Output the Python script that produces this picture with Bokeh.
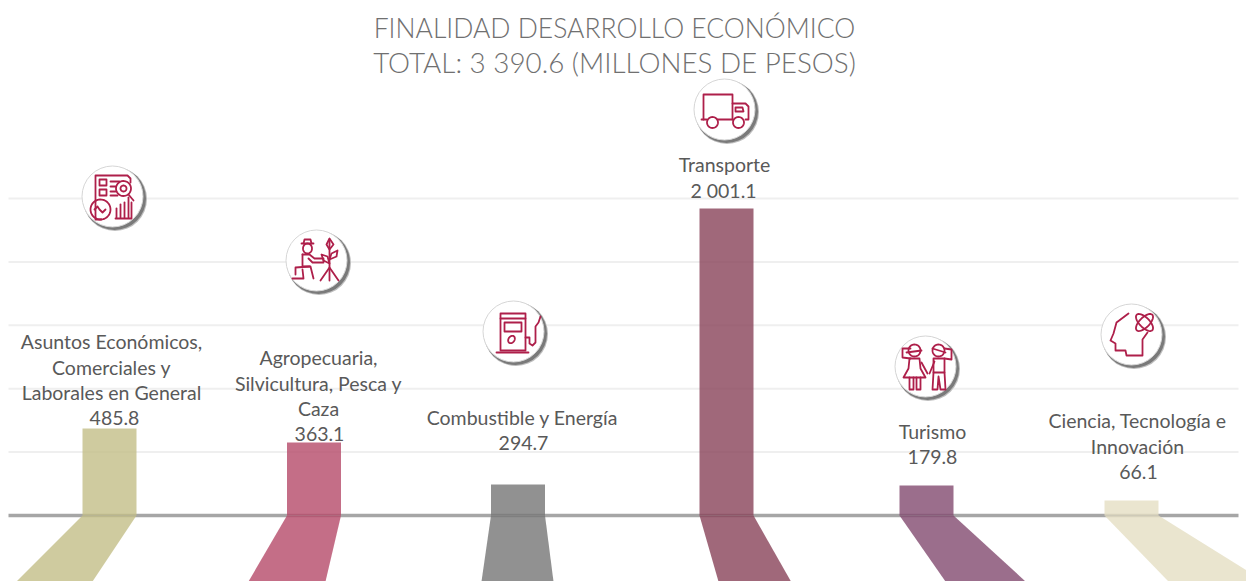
import numpy as np
from bokeh.core.properties import value
from bokeh.embed import file_html
from bokeh.models import Range1d
from bokeh.plotting import figure
from bokeh.resources import INLINE

# ---------- data ----------
title_lines = ["FINALIDAD DESARROLLO ECONÓMICO", "TOTAL: 3 390.6 (MILLONES DE PESOS)"]
categories = [
    ["Asuntos Económicos,", "Comerciales y", "Laborales en General"],
    ["Agropecuaria,", "Silvicultura, Pesca y", "Caza"],
    ["Combustible y Energía"],
    ["Transporte"],
    ["Turismo"],
    ["Ciencia, Tecnología e", "Innovación"],
]
value_labels = ["485.8", "363.1", "294.7", "2 001.1", "179.8", "66.1"]
# bar heights as drawn, read against the gridlines (the picture is not to scale)
bar_heights = [549, 460, 196, 1937, 189, 95]
grid_ticks = [400, 800, 1200, 1600, 2000]
bar_colors = ["#C3BE87", "#B54A69", "#767676", "#884259", "#824A6F", "#E5DFC3"]

# ---------- layout (page pixels of the 1246x581 window) ----------
W, H = 1246, 581
ZERO_PX, PX_PER_UNIT = 515.0, 63.4 / 400
SLOT0_PX, SLOT_PX = 109.0, 204.4
def fx(px): return (np.asarray(px, dtype=float) - SLOT0_PX) / SLOT_PX
def fy(px): return (ZERO_PX - np.asarray(px, dtype=float)) / PX_PER_UNIT

bar_px = [109, 313.5, 517.5, 726, 926, 1131]
foot_left_px = [16, 248, 481, 718, 945, 1168]
foot_right_px = [92, 325, 553, 790.5, 1025, 1264]
label_cx = [111, 318, 522, 724, 932, 1137]
value_cx = [114, 319, 523, 723, 932, 1138]
label_top = [341, 357, 417, 164, 431, 420]
LINE = 25.6
icon_c = [(113, 197), (317, 261), (514, 332), (725, 110), (926, 367), (1132, 335)]
BAR_W = 54
GRID_X0, GRID_X1 = float(fx(8)), float(fx(1238))

p = figure(width=W, height=H, output_backend="svg", toolbar_location=None,
           x_range=Range1d(float(fx(0)), float(fx(W))),
           y_range=Range1d(float(fy(H)), float(fy(0))),
           min_border=0, outline_line_color=None, background_fill_color="white")
p.xaxis.visible = False
p.yaxis.visible = False
p.xgrid.visible = False
p.ygrid.visible = False

n = len(grid_ticks)
p.segment([GRID_X0] * n, grid_ticks, [GRID_X1] * n, grid_ticks, line_color="#EFEFEF", line_width=2)
p.segment([GRID_X0], [0], [GRID_X1], [0], line_color="#A6A6A6", line_width=3.5)

# bars and their slanted reflections
alpha = 0.8
xb = [float(fx(v)) for v in bar_px]
p.vbar(x=xb, top=bar_heights, bottom=0, width=BAR_W / SLOT_PX, fill_color=bar_colors,
       fill_alpha=alpha, line_color=None)
half = BAR_W / 2
xs, ys = [], []
for c, fl, fr in zip(bar_px, foot_left_px, foot_right_px):
    xs.append(list(fx([c - half, c + half, fr, fl])))
    ys.append([0, 0, float(fy(581)), float(fy(581))])
p.patches(xs, ys, fill_color=bar_colors, fill_alpha=alpha, line_color=None)

# texts
FONT = value("Lato")
title_sizes = ["26.5px", "27.8px"]
p.text(x=[float(fx(614))] * 2, y=[float(fy(27)), float(fy(62))], text=title_lines,
       text_font=value("Lato Light"), text_font_size=title_sizes, text_color="#707070",
       text_align="center", text_baseline="middle")
lx, ly, lt = [], [], []
for cats, cx0, top, vx, val in zip(categories, label_cx, label_top, value_cx, value_labels):
    for i, line in enumerate(cats):
        lx.append(float(fx(cx0))); ly.append(float(fy(top + i * LINE))); lt.append(line)
    lx.append(float(fx(vx))); ly.append(float(fy(top + len(cats) * LINE))); lt.append(val)
p.text(x=lx, y=ly, text=lt, text_font=FONT, text_font_size="19.5px", text_color="#595959",
       text_align="center", text_baseline="middle")

# round icon badges
cx = np.array([c[0] for c in icon_c], float)
cy = np.array([c[1] for c in icon_c], float)
p.scatter(fx(cx + 1.5), fy(cy + 1.5), marker="circle", size=64, fill_color="#BDBDBD", line_color=None)
p.scatter(fx(cx + 1), fy(cy + 1), marker="circle", size=63, fill_color="#7A7A7A", line_color=None)
p.scatter(fx(cx - 1), fy(cy - 1), marker="circle", size=61, fill_color="white",
          line_color="#D6D6D6", line_width=1)

def ell(x0, y0, a, b, rot=0.0, n=40):
    t = np.linspace(0, 2 * np.pi, n)
    x, y = a * np.cos(t), b * np.sin(t)
    c, s = np.cos(rot), np.sin(rot)
    return list(zip(x0 + x * c - y * s, y0 + x * s + y * c))

icons = {
    0: [
        [(-12, 22), (-18, 22), (-18, -22), (14, -22), (17, -19), (17, -15)],
        [(-14, -18), (-7, -18), (-7, -12), (-14, -12), (-14, -18)],
        [(-14, -8), (-7, -8), (-7, -2), (-14, -2), (-14, -8)],
        [(-3, -16), (6, -16)], [(-3, -11), (2, -11)], [(-3, -6), (2, -6)], [(-3, -2), (4, -2)],
        ell(10, -9, 7.5, 7.5), ell(10, -9, 3, 3),
        [(15, -3), (20, 3)],
        ell(-13, 12, 10, 10), [(-19, 12), (-16, 9), (-14, 12), (-11, 15), (-8, 12)],
        [(2, 21), (18, 21), (18, 5)],
        [(3, 20), (3, 11)], [(7, 20), (7, 7)], [(11, 20), (11, 5)], [(15, 20), (15, 0)],
    ],
    1: [
        [(-16, -18), (-4, -18)], [(-14, -18), (-13, -22), (-7, -22), (-6, -18)],
        ell(-10, -13, 4.5, 5),
        [(-15, -7), (-15, 5), (-7, 5), (-4, 17)],
        [(-15, -7), (-8, -7), (-3, -3), (6, -3), (6, 1), (-5, 1), (-9, -3)],
        [(-8, 5), (-22, 6), (-22, 13)], [(-25, 17), (-14, 17), (-15, 8)],
        [(12, 19), (12, -22)], [(3, 19), (12, 6), (21, 19)],
        [(12, -12), (16, -17), (12, -23), (9, -17), (12, -12)],
        [(12, -2), (19, -5), (20, -11), (14, -8), (12, -2)],
        [(12, 2), (6, -1), (4, -7), (10, -5), (12, 2)],
    ],
    2: [
        [(-14, 17), (-14, -19), (11, -19), (11, 17)],
        [(-14, -14), (11, -14)],
        [(-10, -10), (7, -10), (7, -1), (-10, -1), (-10, -10)],
        [(-18, 20), (14, 20)], [(-14, 18), (11, 18)],
        [(11, 5), (15, 5), (15, 11), (18, 13), (21, 10), (21, -6), (24, -10), (26, -16)],
        ell(-3, 7, 3, 4, 0.6),
    ],
    3: [
        [(-22, 9), (-22, -16), (7, -16), (7, 9)],
        [(-8, 9), (7, 9)], [(20, 9), (23, 9), (23, -4), (20, -7), (7, -7)],
        [(-24, 9), (-19, 9)],
        [(10, -3), (17, -3), (18, 1), (10, 1), (10, -3)],
        ell(-13, 12, 5.5, 5.5), ell(13, 12, 5.5, 5.5),
    ],
    4: [
        ell(-12, -17, 6, 6), [(-20, -15), (-5, -17)],
        [(-16, -9), (-24, -10), (-24, -19), (-16, -19)],
        [(-17, -9), (-18, 1), (-23, 10), (-1, 10), (-6, 1), (-7, -9), (-17, -9)],
        [(-17, 10), (-17, 22), (-13, 22), (-13, 10)], [(-10, 10), (-10, 22), (-6, 22), (-6, 10)],
        [(-5, -5), (1, 6)], [(3, 6), (8, -6)],
        ell(12, -17, 6, 6), [(6, -19), (19, -15)],
        [(18, -9), (25, -8), (25, -18), (18, -19)],
        [(7, -9), (18, -9), (18, 5), (7, 5), (7, -9)],
        [(7, 5), (6, 22), (11, 22), (12, 9), (14, 22), (19, 22), (18, 5)],
    ],
    5: [
        [(-4, -22), (-16, -13), (-19, -2), (-22, 5), (-17, 8), (-17, 15), (-7, 15), (-6, 20), (10, 20),
         (10, 4), (15, -3)],
        ell(12, -13, 11, 5, np.pi / 4), ell(12, -13, 11, 5, -np.pi / 4),
    ],
}
ix, iy = [], []
for k, paths in icons.items():
    for path in paths:
        arr = np.array(path, float)
        ix.append(list(fx(cx[k] + arr[:, 0])))
        iy.append(list(fy(cy[k] + arr[:, 1])))
p.multi_line(ix, iy, line_color="#AE1F4A", line_width=1.8, line_join="round", line_cap="round")

open("out.html", "w").write(file_html(p, INLINE))
